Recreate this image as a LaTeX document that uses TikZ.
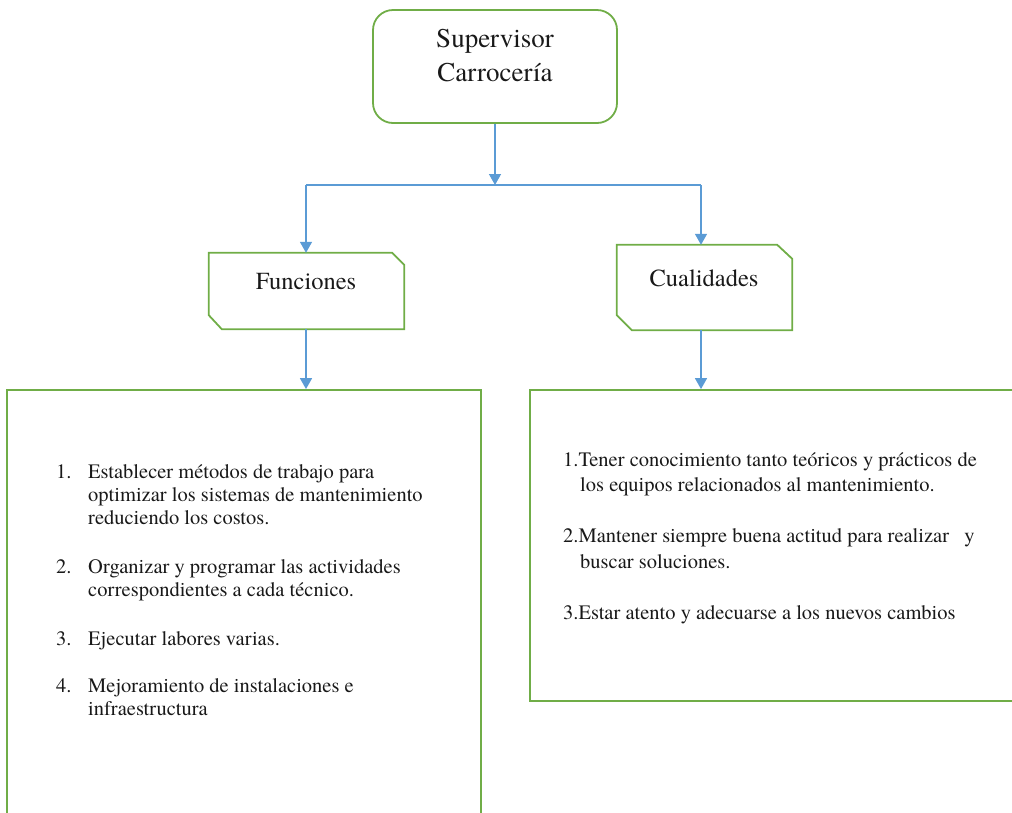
\documentclass[tikz,border=0pt]{standalone}
\usepackage{fontspec}
\setmainfont{texgyretermes-regular.otf}
\usetikzlibrary{arrows.meta}
\definecolor{grn}{RGB}{112,173,71}
\definecolor{blu}{RGB}{91,155,213}
\definecolor{txt}{RGB}{25,25,25}
\tikzset{
  boxline/.style={draw=grn, line width=1.8pt},
  conn/.style={draw=blu, line width=1.4pt},
  arr/.style={conn, -{Triangle[length=11pt,width=12pt]}},
  ttl/.style={inner sep=0pt, anchor=base, text=txt, font=\fontsize{27}{33}\selectfont},
  sub/.style={inner sep=0pt, anchor=base, text=txt, font=\fontsize{24.5}{29}\selectfont},
  body/.style={inner sep=0pt, anchor=base west, text=txt, font=\fontsize{20.5}{23}\selectfont},
  shell/.style={inner sep=0pt, draw=none}
}
\begin{document}
\begin{tikzpicture}[x=1pt,y=-1pt]
\useasboundingbox (0,0) rectangle (1012,812);
% top box
\node[shell, boxline, rounded corners=20pt, minimum width=244pt, minimum height=113pt] (sup) at (495,66.5) {};
\node[ttl] (supA) at (495,47) {Supervisor};
\node[ttl] (supB) at (495,81) {Carrocería};
% Funciones box
\node[shell, minimum width=195pt, minimum height=76pt] (fun) at (306.5,291) {};
\draw[boxline] (fun.north west) -- ([xshift=-12pt]fun.north east) -- ([yshift=-12pt]fun.north east)
  -- (fun.south east) -- ([xshift=13pt]fun.south west) -- ([yshift=14pt]fun.south west) -- cycle;
\node[sub] (funT) at (306,289) {Funciones};
% Cualidades box
\node[shell, minimum width=175pt, minimum height=85pt] (cua) at (704.5,287.5) {};
\draw[boxline] (cua.north west) -- ([xshift=-15pt]cua.north east) -- ([yshift=-14pt]cua.north east)
  -- (cua.south east) -- ([xshift=15pt]cua.south west) -- ([yshift=15pt]cua.south west) -- cycle;
\node[sub] (cuaT) at (704,286) {Cualidades};
% big boxes
\node[shell, boxline, minimum width=474pt, minimum height=440pt] (lbox) at (244,610) {};
\node[shell, boxline, minimum width=500pt, minimum height=311pt] (rbox) at (780,545.5) {};
% connectors
\coordinate (jm) at (495,185);
\coordinate (jl) at (306,185);
\coordinate (jr) at (701,185);
\draw[arr] (sup.south) -- (jm);
\draw[conn] (jl) -- (jr);
\draw[arr] (jl) -- (fun.north -| jl);
\draw[arr] (jr) -- (cua.north -| jr);
\draw[arr] (fun.south -| jl) -- (lbox.north -| jl);
\draw[arr] (cua.south -| jr) -- (rbox.north -| jr);
% left list
\node[body] (n1) at (56,478) {1.};
\node[body] (t1a) at (88,478) {Establecer métodos de trabajo para};
\node[body] (t1b) at (88,501) {optimizar los sistemas de mantenimiento};
\node[body] (t1c) at (88,524) {reduciendo los costos.};
\node[body] (n2) at (56,573) {2.};
\node[body] (t2a) at (88,573) {Organizar y programar las actividades};
\node[body] (t2b) at (88,596) {correspondientes a cada técnico.};
\node[body] (n3) at (56,645) {3.};
\node[body] (t3a) at (88,645) {Ejecutar labores varias.};
\node[body] (n4) at (56,692) {4.};
\node[body] (t4a) at (88,692) {Mejoramiento de instalaciones e};
\node[body] (t4b) at (88,715) {infraestructura};
% right list
\node[body] (m1) at (563,466) {1.Tener conocimiento tanto teóricos y prácticos de};
\node[body] (m1b) at (580,491) {los equipos relacionados al mantenimiento.};
\node[body] (m2) at (563,542) {2.Mantener siempre buena actitud para realizar\hspace{10pt} y};
\node[body] (m2b) at (580,568) {buscar soluciones.};
\node[body] (m3) at (563,619) {3.Estar atento y adecuarse a los nuevos cambios};
\end{tikzpicture}
\end{document}
